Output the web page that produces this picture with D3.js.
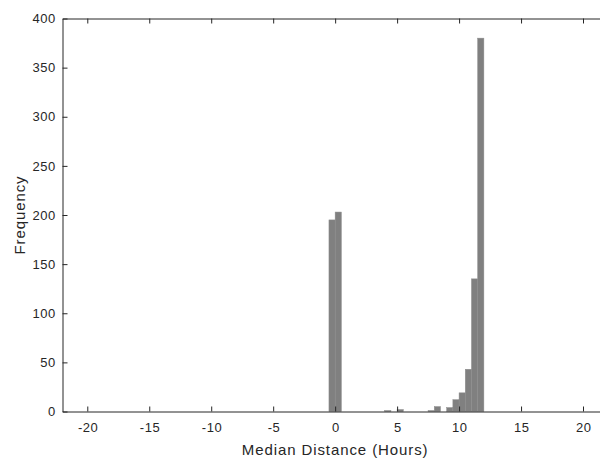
<!DOCTYPE html>
<html>
<head>
<meta charset="utf-8">
<script src="https://cdn.jsdelivr.net/npm/d3@7"></script>
<style>
  html, body { margin: 0; padding: 0; background: #fff; }
  svg { display: block; }
  text { font-family: "Liberation Sans", Arial, Helvetica, sans-serif; }
</style>
</head>
<body>
<svg id="chart" width="600" height="459"></svg>
<script>
// Histogram data (bin left edges, width 0.5 hours)
const binWidth = 0.5;
const binLeft = [-0.5, 0, 4, 5, 7.5, 8, 9, 9.5, 10, 10.5, 11, 11.5];
const counts  = [195, 203, 1, 2, 1, 5, 4, 12, 19, 43, 135, 380];
const xTicks = [-20, -15, -10, -5, 0, 5, 10, 15, 20];
const yTicks = [0, 50, 100, 150, 200, 250, 300, 350, 400];
const xLabel = "Median Distance (Hours)";
const yLabel = "Frequency";

const svg = d3.select("#chart");
const pLeft = 62.5, pRight = 607.8, pTop = 18.5, pBottom = 411.5;
const x = d3.scaleLinear().domain([-22, 22]).range([pLeft, pRight]);
const y = d3.scaleLinear().domain([0, 400]).range([pBottom, pTop]);
const axisColor = "#262626";
const tickLen = 5;
const fmt = d => String(d);

const bins = binLeft.map((b, i) => ({ x0: b, x1: b + binWidth, n: counts[i] }));

svg.append("g").selectAll("rect").data(bins).join("rect")
  .attr("x", d => x(d.x0))
  .attr("width", d => x(d.x1) - x(d.x0))
  .attr("y", d => y(d.n))
  .attr("height", d => y(0) - y(d.n))
  .attr("fill", "#808080")
  .attr("stroke", "#8c8c8c")
  .attr("stroke-width", 0.5);

// Bottom axis (ticks inward)
const gx = svg.append("g").attr("transform", `translate(0,${pBottom})`)
  .call(d3.axisBottom(x).tickValues(xTicks).tickFormat(fmt).tickSizeInner(-tickLen).tickSizeOuter(0).tickPadding(11));
// Top axis (ticks inward, no labels)
const gxt = svg.append("g").attr("transform", `translate(0,${pTop})`)
  .call(d3.axisTop(x).tickValues(xTicks).tickSizeInner(-tickLen).tickSizeOuter(0).tickFormat(""));
// Left axis
const gy = svg.append("g").attr("transform", `translate(${pLeft},0)`)
  .call(d3.axisLeft(y).tickValues(yTicks).tickFormat(fmt).tickSizeInner(-tickLen).tickSizeOuter(0).tickPadding(6.8));
// Right axis (mostly off-canvas)
const gyr = svg.append("g").attr("transform", `translate(${pRight},0)`)
  .call(d3.axisRight(y).tickValues(yTicks).tickSizeInner(-tickLen).tickSizeOuter(0).tickFormat(""));

[gx, gxt, gy, gyr].forEach(g => {
  g.select(".domain").attr("stroke", axisColor).attr("stroke-width", 1);
  g.selectAll(".tick line").attr("stroke", axisColor).attr("stroke-width", 1);
  g.selectAll(".tick text").attr("fill", axisColor).attr("font-size", 13)
    .attr("letter-spacing", 0.5)
    .attr("font-family", '"Liberation Sans", Arial, sans-serif');
});
gx.selectAll(".tick text").attr("dx", 0.25);

svg.append("text")
  .attr("x", (x(-22) + x(22)) / 2)
  .attr("y", 455)
  .attr("text-anchor", "middle")
  .attr("fill", axisColor)
  .attr("font-size", 15)
  .attr("letter-spacing", 0.9)
  .text(xLabel);

svg.append("text")
  .attr("transform", `translate(25,215) rotate(-90)`)
  .attr("text-anchor", "middle")
  .attr("fill", axisColor)
  .attr("font-size", 15)
  .attr("letter-spacing", 0.9)
  .text(yLabel);
</script>
</body>
</html>
